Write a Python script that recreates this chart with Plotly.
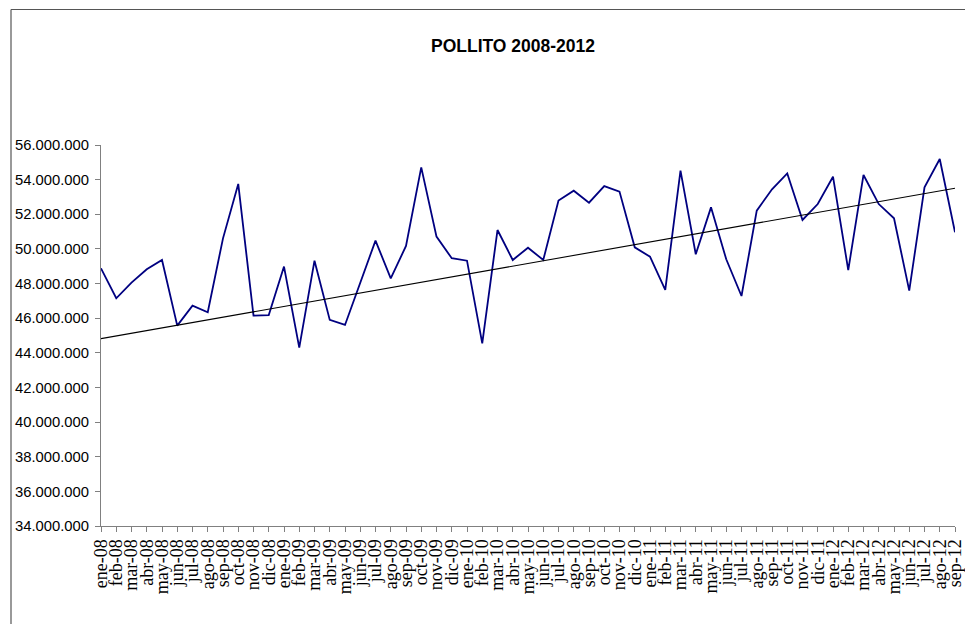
import plotly.graph_objects as go

months = ["ene", "feb", "mar", "abr", "may", "jun", "jul", "ago", "sep", "oct", "nov", "dic"]
categories = [f"{m}-{y:02d}" for y in range(8, 13) for m in months][:57]

values = [
    48.88, 47.15, 48.05, 48.82, 49.36, 45.57, 46.72, 46.34, 50.61, 53.75, 46.15, 46.18,
    48.98, 44.30, 49.32, 45.90, 45.61, 48.01, 50.48, 48.30, 50.17, 54.71, 50.71, 49.46,
    49.32, 44.55, 51.09, 49.36, 50.07, 49.36, 52.79, 53.36, 52.67, 53.63, 53.31, 50.09,
    49.55, 47.63, 54.52, 49.69, 52.40, 49.40, 47.28, 52.21, 53.44, 54.36, 51.67, 52.59,
    54.17, 48.78, 54.27, 52.59, 51.77, 47.59, 53.56, 55.19, 50.96,
]
values = [v * 1_000_000 for v in values]

# linear trendline as drawn in the reference (value at first and last month)
trend_x = [categories[0], categories[-1]]
trend_y = [44.82 * 1_000_000, 53.50 * 1_000_000]

y_ticks = list(range(34_000_000, 56_000_001, 2_000_000))

fig = go.Figure()
fig.add_trace(go.Scatter(x=categories, y=values, mode="lines",
                         line=dict(color="#000080", width=1.8), showlegend=False))
fig.add_trace(go.Scatter(x=trend_x, y=trend_y, mode="lines",
                         line=dict(color="#000000", width=1.1), showlegend=False))

L, R, T, B = 101, 10, 145, 98
W, H = 965, 624
pw, ph = W - L - R, H - T - B

fig.update_layout(
    width=W, height=H,
    margin=dict(l=L, r=R, t=T, b=B, autoexpand=False),
    paper_bgcolor="white", plot_bgcolor="white",
    separators=",.",
    title=dict(text="<b>POLLITO 2008-2012</b>",
               font=dict(family="Liberation Sans, Arial, sans-serif", size=17.5, color="black"),
               x=(513 - L) / pw, xref="paper", xanchor="center",
               y=1 - 45.5 / H, yref="container", yanchor="middle"),
    xaxis=dict(type="category", range=[0, len(categories) - 1], automargin=False,
               categoryorder="array", categoryarray=categories,
               tickmode="array", tickvals=categories, ticktext=categories,
               tickangle=-90, ticks="outside", ticklen=5, tickcolor="#808080",
               showline=True, linecolor="#808080", linewidth=1, showgrid=False, zeroline=False,
               tickfont=dict(family="Liberation Serif, Times New Roman, serif", size=18, color="black")),
    yaxis=dict(range=[34_000_000, 56_000_000], tickmode="array", tickvals=y_ticks, automargin=False,
               tickformat=",d", ticks="outside", ticklen=5, tickcolor="#808080", ticklabelstandoff=3,
               showline=True, linecolor="#808080", linewidth=1, showgrid=False, zeroline=False,
               tickfont=dict(family="Arial, Liberation Sans, sans-serif", size=14.8, color="black")),
)

x_left = (11 - L) / pw
x_right = (W + 5 - L) / pw
y_top = 1 + (T - 9.5) / ph
y_bot = -(H + 10 - (H - B)) / ph
fig.add_shape(type="line", xref="paper", yref="paper", x0=x_left, x1=x_left, y0=y_bot, y1=y_top,
              line=dict(color="#555555", width=1.2))
fig.add_shape(type="line", xref="paper", yref="paper", x0=x_left, x1=x_right, y0=y_top, y1=y_top,
              line=dict(color="#555555", width=1.2))

fig.write_html("out.html")
